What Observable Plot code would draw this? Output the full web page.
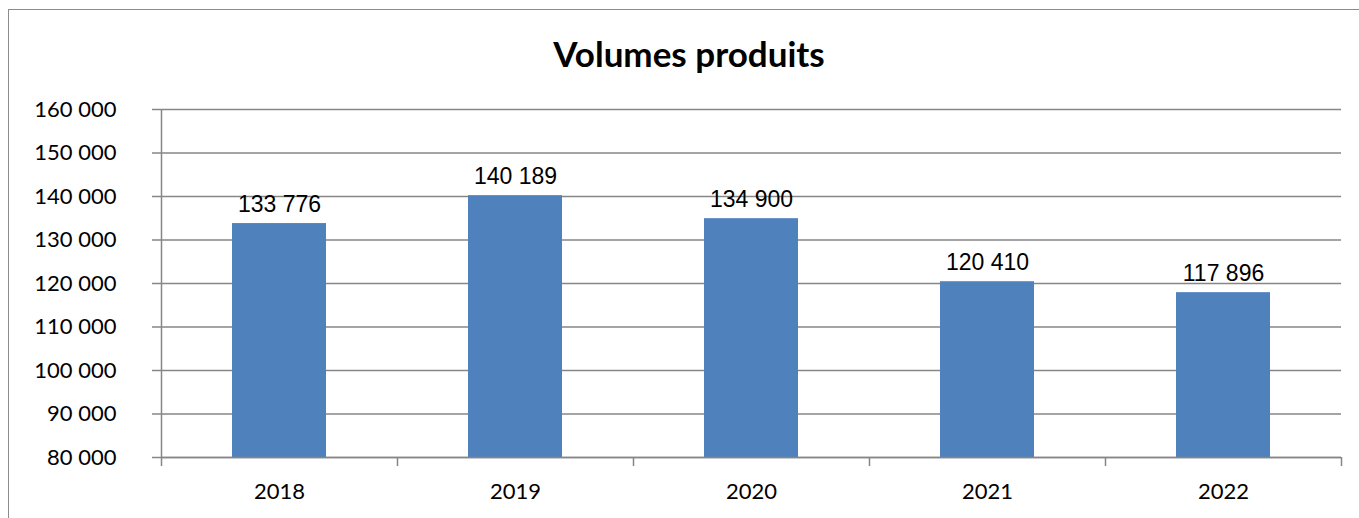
<!DOCTYPE html>
<html><head><meta charset="utf-8">
<script src="https://cdn.jsdelivr.net/npm/d3@7"></script>
<script src="https://cdn.jsdelivr.net/npm/@observablehq/plot@0.6"></script>
<style>
html,body{margin:0;padding:0;background:#fff;width:1359px;height:518px;overflow:hidden;}
#title{position:relative;height:90px;width:1378px;text-align:center;font-family:Lato,"Open Sans",sans-serif;font-weight:bold;font-size:35px;line-height:35px;padding-top:36px;box-sizing:border-box;color:#000;}
#chart{position:relative;height:428px;}
#frame{position:absolute;left:8px;top:9px;width:1400px;height:560px;border:1.5px solid #8c8c8c;box-sizing:border-box;pointer-events:none;}
</style></head>
<body>
<div id="title">Volumes produits</div>
<div id="chart"></div>
<div id="frame"></div>
<script>
const years = ["2018", "2019", "2020", "2021", "2022"];
const volumes = [133776, 140189, 134900, 120410, 117896];
const yTicks = [80000, 90000, 100000, 110000, 120000, 130000, 140000, 150000, 160000];
const yDomain = [80000, 160000];

const locale = d3.formatLocale({decimal: ",", thousands: "\u00a0", grouping: [3], currency: ["", " €"]});
const fmt = locale.format(",");
const data = years.map((year, i) => ({year, i, value: volumes[i]}));
const grey = "#868686";
const boundaries = d3.range(years.length + 1);

const plot = Plot.plot({
  width: 1359,
  height: 428,
  marginTop: 19,
  marginBottom: 61,
  marginLeft: 161,
  marginRight: 18,
  style: {background: "transparent", overflow: "visible"},
  x: {type: "linear", domain: [0, years.length], axis: null},
  y: {domain: yDomain, axis: null},
  marks: [
    Plot.gridY(yTicks, {stroke: grey, strokeOpacity: 1, strokeWidth: 1.5}),
    Plot.rectY(data, {x1: "i", x2: d => d.i + 1, y1: yDomain[0], y2: "value", insetLeft: 71, insetRight: 71, fill: "#4f81bd"}),
    Plot.ruleX([0], {stroke: grey, strokeWidth: 1.5}),
    Plot.ruleY([yDomain[0]], {stroke: grey, strokeWidth: 1.5}),
    Plot.axisY(yTicks, {label: null, tickSize: 9, tickPadding: 36, tickFormat: fmt, fontSize: 22, fontFamily: "Lato", stroke: grey, strokeWidth: 1.5, strokeOpacity: 1, fill: "#000"}),
    Plot.axisX(boundaries, {label: null, tickSize: 9, tickFormat: () => "", stroke: grey, strokeWidth: 1.5, strokeOpacity: 1}),
    Plot.text(data, {x: d => d.i + 0.5, y: yDomain[0], text: "year", lineAnchor: "top", dy: 26, fontSize: 22, fontFamily: "Lato", fill: "#000"}),
    Plot.text(data, {x: d => d.i + 0.5, y: "value", text: d => fmt(d.value), lineAnchor: "bottom", dy: -12, fontSize: 23, fontFamily: "Liberation Sans", fill: "#000"})
  ]
});
document.getElementById("chart").appendChild(plot);
</script>
</body></html>
